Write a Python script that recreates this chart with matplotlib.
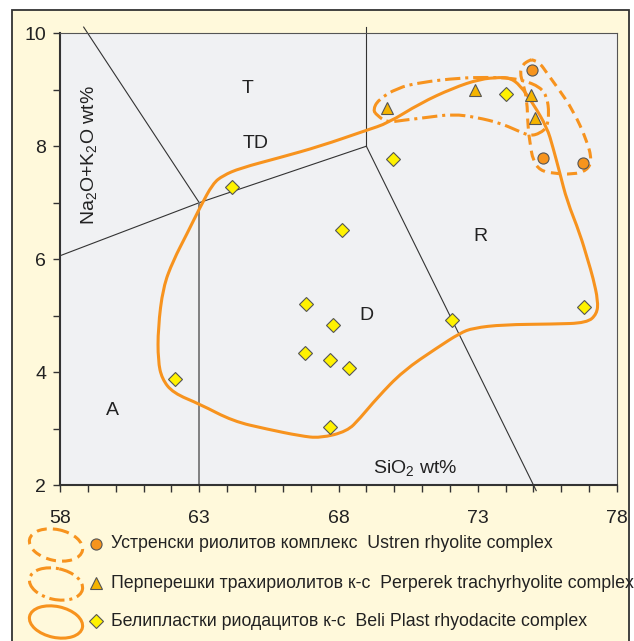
import matplotlib
matplotlib.use('Agg')
import matplotlib.pyplot as plt
from matplotlib.path import Path
from matplotlib.patches import PathPatch, Rectangle, Ellipse
import numpy as np

# sample points
ustren_x = [74.94, 75.35, 76.79]
ustren_y = [9.35, 7.79, 7.71]
perperek_x = [69.75, 72.9, 74.9, 75.06]
perperek_y = [8.67, 9.0, 8.9, 8.5]
beli_x = [64.18, 68.13, 66.83, 66.8, 62.13, 67.81, 67.7, 68.39, 67.7, 72.09, 76.82, 69.97, 74.0]
beli_y = [7.27, 6.52, 5.21, 4.33, 3.87, 4.83, 4.21, 4.08, 3.03, 4.93, 5.16, 7.77, 8.92]

# hand-drawn group outlines (control points)
beli_cx = [62.06, 62.56, 63.03, 63.49, 63.85, 64.46, 65.9, 67.34, 68.99, 69.78, 70.93, 72.11,
           73.08, 73.8, 74.16, 74.52, 74.98, 75.49, 75.7, 75.95, 76.2, 76.67, 76.96, 77.14,
           77.32, 77.28, 76.92, 75.7, 73.91, 72.83, 72.36, 71.54, 70.32, 69.38, 68.77, 68.31,
           67.34, 66.62, 65.43, 64.21, 63.03, 62.06, 61.66, 61.52, 61.52, 61.7]
beli_cy = [5.97, 6.45, 6.92, 7.34, 7.48, 7.61, 7.80, 8.0, 8.28, 8.41, 8.76, 9.03,
           9.19, 9.22, 9.21, 9.08, 8.76, 8.33, 7.98, 7.52, 7.04, 6.45, 5.97, 5.67,
           5.26, 5.03, 4.87, 4.85, 4.84, 4.78, 4.69, 4.43, 4.02, 3.54, 3.18, 2.95,
           2.83, 2.87, 2.99, 3.13, 3.43, 3.63, 3.88, 4.2, 4.78, 5.5]
perperek_cx = [69.24, 69.42, 70.1, 70.93, 72.36, 73.33, 74.05, 74.62, 75.24, 75.49, 75.56,
               75.49, 75.24, 74.88, 74.41, 73.8, 72.97, 72.11, 71.18, 70.32, 69.74, 69.38]
perperek_cy = [8.64, 8.82, 9.03, 9.13, 9.21, 9.22, 9.21, 9.17, 9.05, 8.87, 8.58,
               8.34, 8.23, 8.18, 8.28, 8.41, 8.51, 8.57, 8.51, 8.46, 8.42, 8.55]
ustren_cx = [74.88, 74.59, 74.52, 74.62, 74.77, 74.8, 74.88, 74.98, 75.24, 75.7, 76.42,
             76.92, 77.1, 76.92, 76.42, 75.85, 75.49, 75.24, 74.98]
ustren_cy = [9.53, 9.44, 9.29, 9.12, 8.82, 8.34, 8.05, 7.75, 7.57, 7.52, 7.5,
             7.57, 7.75, 8.1, 8.64, 9.05, 9.29, 9.47, 9.53]

# classification field boundaries
field_lines = [
    ([58.85, 63], [10.11, 7]),
    ([58, 63, 69], [6.06, 7, 8]),
    ([69, 69], [8, 10.12]),
    ([69, 75.1], [8, 1.9]),
]
field_names = ['T', 'TD', 'A', 'D', 'R']
field_x = [64.75, 65.04, 59.9, 69.0, 73.1]
field_y = [9.03, 8.05, 3.32, 5.0, 6.4]

x_labels = ['58', '63', '68', '73', '78']
y_labels = ['2', '4', '6', '8', '10']
legend_texts = ['Устренски риолитов комплекс  Ustren rhyolite complex',
                'Перперешки трахириолитов к-с  Perperek trachyrhyolite complex',
                'Белипластки риодацитов к-с  Beli Plast rhyodacite complex']

plt.rcParams['font.family'] = ['Liberation Sans', 'DejaVu Sans']
plt.rcParams['mathtext.default'] = 'regular'

ORANGE = '#f7931e'
TXT = '#222222'


def closed_curve(xs, ys):
    p = np.column_stack([xs, ys])
    mids = (p + np.roll(p, -1, axis=0)) / 2
    verts = [mids[-1]]
    codes = [Path.MOVETO]
    for i in range(len(p)):
        verts += [p[i], mids[i]]
        codes += [Path.CURVE3, Path.CURVE3]
    return Path(verts, codes)


fig = plt.figure(figsize=(6.34, 6.41), dpi=100, facecolor='white')

# background layer in pixel coordinates
lax = fig.add_axes([0, 0, 1, 1], zorder=0)
lax.set_xlim(0, 634)
lax.set_ylim(641, 0)
lax.axis('off')
lax.add_patch(Rectangle((12, 10), 617, 700, facecolor='#fff9db', edgecolor='#333333', lw=1.3))

ax = fig.add_axes([60 / 634, 1 - 485 / 641, 557 / 634, 451.7 / 641], zorder=1)
ax.set_facecolor('#f0f1f3')
ax.set_xlim(58, 78)
ax.set_ylim(2, 10)

for xs, ys in field_lines:
    ax.plot(xs, ys, color='#333333', lw=0.8, clip_on=False, zorder=2)
ax.plot([63, 63], [2, 7], color='#777777', lw=1.3, zorder=2)

for name, x, y in zip(field_names, field_x, field_y):
    ax.text(x, y, name, fontsize=14, color=TXT, ha='center', va='center')
ax.text(59.04, 7.84, 'Na$_2$O+K$_2$O wt%', rotation=90, fontsize=14, color=TXT,
        ha='center', va='center')
ax.text(70.75, 2.3, 'SiO$_2$ wt%', fontsize=14, color=TXT, ha='center', va='center')

ax.add_patch(PathPatch(closed_curve(beli_cx, beli_cy), fill=False, edgecolor=ORANGE,
                       lw=2.2, zorder=3))
ax.add_patch(PathPatch(closed_curve(perperek_cx, perperek_cy), fill=False, edgecolor=ORANGE,
                       lw=2.2, linestyle=(0, (5, 1.6, 1, 1.6)), zorder=3))
ax.add_patch(PathPatch(closed_curve(ustren_cx, ustren_cy), fill=False, edgecolor=ORANGE,
                       lw=2.2, linestyle=(0, (3.3, 2)), zorder=3))

ax.plot(beli_x, beli_y, 'D', ms=7, mfc='#fff200', mec='#555555', mew=0.8, zorder=4)
ax.plot(perperek_x, perperek_y, '^', ms=9, mfc='#f5b400', mec='#555555', mew=0.8, zorder=4)
ax.plot(ustren_x, ustren_y, 'o', ms=8, mfc='#f7941d', mec='#555555', mew=0.8, zorder=4)

ax.set_xticks([58, 63, 68, 73, 78])
ax.set_xticklabels(x_labels)
ax.set_xticks(range(58, 79), minor=True)
ax.set_yticks([2, 4, 6, 8, 10])
ax.set_yticklabels(y_labels)
ax.set_yticks(range(2, 11), minor=True)
ax.tick_params(which='both', direction='out', length=5, width=1, color='#333333')
ax.tick_params(axis='x', labelsize=14, labelcolor=TXT, pad=13)
ax.tick_params(axis='y', labelsize=14, labelcolor=TXT, pad=5)
for side in ['left', 'bottom']:
    ax.spines[side].set_linewidth(1.5)
    ax.spines[side].set_color('#333333')
for side in ['top', 'right']:
    ax.spines[side].set_linewidth(0.8)
    ax.spines[side].set_color('#555555')

# legend, drawn by hand
rows_y = [544, 583, 621]
styles = [(0, (3.3, 2)), (0, (5, 1.6, 1, 1.6)), '-']
markers = [('o', 8, '#f7941d'), ('^', 9, '#f5b400'), ('D', 7, '#fff200')]
for i, y in enumerate(rows_y):
    lax.add_patch(Ellipse((56, y + 1), 54, 31, angle=12, fill=False, edgecolor=ORANGE,
                          lw=2.2, linestyle=styles[i]))
    m, s, c = markers[i]
    lax.plot([96], [y], m, ms=s, mfc=c, mec='#555555', mew=0.8)
    lax.text(111, y, legend_texts[i], fontsize=12.8, color=TXT, ha='left', va='center')

fig.savefig('out.png', dpi=100, facecolor='white')
